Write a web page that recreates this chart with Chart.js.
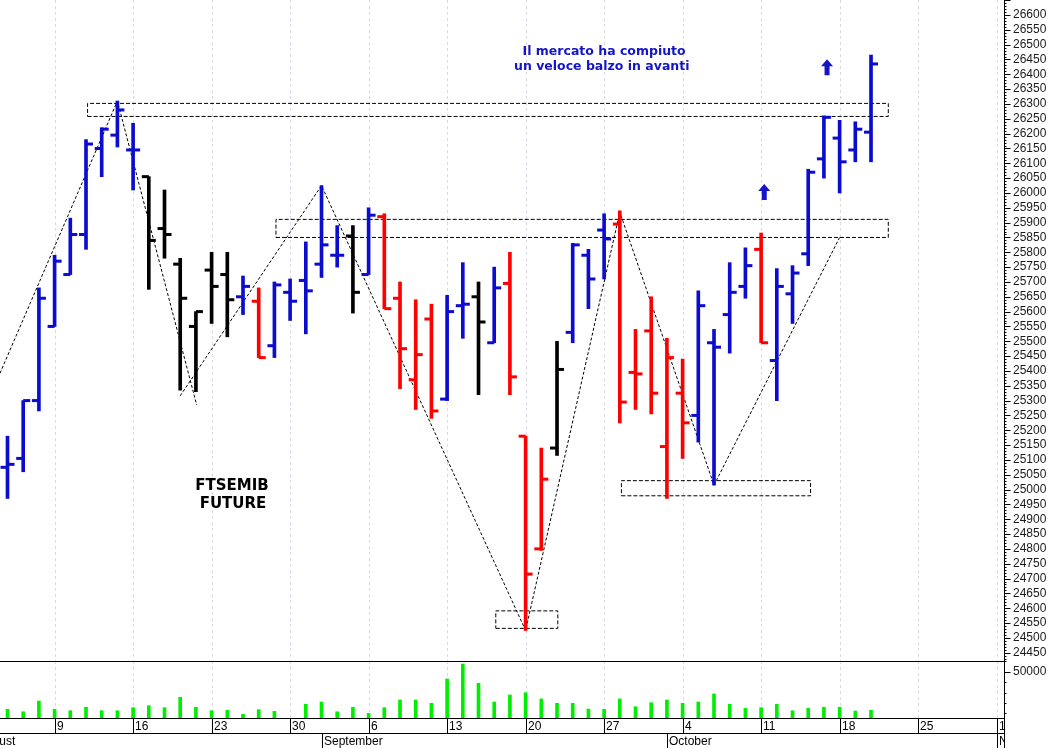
<!DOCTYPE html>
<html>
<head>
<meta charset="utf-8">
<title>FTSEMIB Future</title>
<script src="https://cdn.jsdelivr.net/npm/chart.js@4.4.1/dist/chart.umd.min.js"></script>
<style>
    body { margin: 0; background: #fff; }
    #wrap { position: relative; width: 1052px; height: 748px; overflow: hidden; background: #fff; }
    #chartPrice { position: absolute; left: 0; top: 0; }
    #chartVol { position: absolute; left: 0; top: 661px; }
</style>
</head>
<body>
<div id="wrap">
    <canvas id="chartPrice" width="1052" height="661"></canvas>
    <canvas id="chartVol" width="1052" height="87"></canvas>
</div>
<script>
/* ====================================
   FTSEMIB FUTURE - barre giornaliere
   ==================================== */

// sedute dal 4 agosto (indice 0) al 20 ottobre (indice 55)
const openP = [25075, 25105, 25300, 25550, 25725, 25860, 26150, 26195, 26145, 26055,
               25880, 25760, 25550, 25740, 25725, 25650, 25635, 25485, 25665, 25705,
               25760, 25790, 25855, 25725, 25920, 25645, 25370, 25575, 25305, 25620,
               25650, 25495, 25695, 25180, 24800, 25140, 25530, 25790, 25875, 25895,
               25395, 25535, 25145, 25325, 25250, 25495, 25590, 25685, 25810, 25435,
               25660, 25795, 26115, 26185, 26145, 26205];
const highP = [25180, 25300, 25680, 25790, 25915, 26180, 26220, 26310, 26235, 26055,
               26010, 25780, 25600, 25800, 25800, 25720, 25680, 25700, 25710, 25835,
               26025, 25890, 25890, 25950, 25930, 25700, 25640, 25625, 25655, 25765,
               25700, 25750, 25800, 25180, 25140, 25500, 25830, 25810, 25930, 25940,
               25540, 25650, 25510, 25440, 25670, 25540, 25765, 25815, 25865, 25745,
               25755, 26080, 26260, 26245, 26240, 26465];
const lowP = [24970, 25060, 25265, 25550, 25725, 25810, 26055, 26155, 26010, 25675,
              25780, 25335, 25330, 25560, 25515, 25590, 25445, 25445, 25570, 25525,
              25715, 25750, 25595, 25725, 25610, 25340, 25270, 25240, 25300, 25510,
              25320, 25495, 25320, 24525, 24795, 25115, 25495, 25610, 25710, 25225,
              25270, 25255, 24970, 25105, 25160, 25015, 25460, 25645, 25495, 25300,
              25560, 25755, 26050, 26000, 26105, 26105];
const closeP = [25085, 25300, 25645, 25770, 25860, 26165, 26215, 26280, 26145, 25840,
                25860, 25645, 25600, 25685, 25640, 25685, 25445, 25690, 25635, 25670,
                25825, 25790, 25665, 25925, 25610, 25475, 25455, 25265, 25600, 25625,
                25565, 25680, 25380, 24715, 25035, 25405, 25825, 25710, 25845, 25295,
                25390, 25325, 25445, 25225, 25620, 25480, 25665, 25755, 25495, 25685,
                25730, 26070, 26255, 26105, 26215, 26435];
// U = rialzo, D = ribasso, N = neutro
const trend = ['U','U','U','U','U','U','U','U','U','N','N','N','N','N','N','U','D','U','U','U',
               'U','U','N','U','D','D','D','D','U','U','N','U','D','D','D','N','U','U','U','D',
               'D','D','D','D','U','U','U','U','D','U','U','U','U','U','U','U'];
const volume = [13800, 11500, 21800, 13800, 12500, 15800, 12500, 12500, 15400, 17300,
                15400, 25400, 15800, 12500, 12900, 9000, 13500, 11900, 5000, 18700,
                20900, 11500, 15800, 10000, 15400, 22800, 22800, 19600, 43000, 57400,
                38800, 20900, 27600, 29800, 23800, 19600, 19600, 14100, 13800, 23800,
                16300, 20200, 22800, 19600, 20900, 28600, 18700, 14800, 15400, 18700,
                12500, 14800, 15800, 15800, 12200, 12900];

// lunedì e inizio mese (indice di seduta)
const weekIdx = [-2, 3, 8, 13, 18, 23, 28, 33, 38, 43, 48, 53, 58, 63];
const weekLabels = ['2', '9', '16', '23', '30', '6', '13', '20', '27', '4', '11', '18', '25', '1'];
const monthIdx = [-2, 20, 42, 63];
const monthNames = ['August', 'September', 'October', 'November'];

// zone di supporto / resistenza
const zoneFrom = [5.1, 17.1, 31.1, 39.1];
const zoneTo = [56.1, 56.1, 35.05, 51.15];
const zoneLow = [26258, 25850, 24532, 24979];
const zoneHigh = [26302, 25911, 24591, 25030];

// trendline tratteggiate
const swingAX = [-0.48, 7, 12.05];
const swingAP = [25392, 26310, 25285];
const swingBX = [11.0, 20, 33, 39, 45, 53.0];
const swingBP = [25316, 26025, 24525, 25935, 25015, 25850];

// frecce
const arrowX = [48.2, 52.2];
const arrowP = [26003, 26424];

const volTicks = [50000];

const xMin = -0.478, xMax = 63.47;
const priceMin = 24422, priceMax = 26650.6;
const volMin = 5480, volMax = 60290;

Chart.defaults.font.family = "'Liberation Sans', Arial, sans-serif";
Chart.defaults.font.size = 12;
Chart.defaults.color = '#1a1a1a';

const trendColor = { U: '#0c0cd0', D: '#ff0000', N: '#000000' };
const barColors = trend.map(t => trendColor[t]);
const idx = openP.map((_, i) => i);
const tickOffset = 3.5 / 15.7;

const Draw = {
    mondayGrid(chart) {
        const { ctx, chartArea } = chart;
        const xs = chart.scales.x;
        ctx.save();
        ctx.strokeStyle = '#dadae2';
        ctx.lineWidth = 1;
        ctx.setLineDash([3, 3]);
        weekIdx.forEach(i => {
            const x = Math.round(xs.getPixelForValue(i)) + 0.5;
            if (x < chartArea.left || x > chartArea.right - 2) return;
            ctx.beginPath();
            ctx.moveTo(x, chartArea.top);
            ctx.lineTo(x, chartArea.bottom);
            ctx.stroke();
        });
        ctx.restore();
    },

    axisTicks(chart, scaleId, minor, major) {
        const { ctx, chartArea } = chart;
        const s = chart.scales[scaleId];
        const x = Math.round(chartArea.right) + 0.5;
        ctx.save();
        ctx.strokeStyle = '#000';
        ctx.lineWidth = 1;
        ctx.beginPath();
        ctx.moveTo(x, 0);
        ctx.lineTo(x, chart.height);
        for (let v = Math.ceil(s.min / minor) * minor; v <= s.max; v += minor) {
            const y = Math.round(s.getPixelForValue(v)) + 0.5;
            const len = (Math.round(v) % major === 0) ? 6 : 2;
            ctx.moveTo(x, y);
            ctx.lineTo(x + len, y);
        }
        ctx.stroke();
        ctx.restore();
    },

    upArrow(ctx, x, y) {
        ctx.beginPath();
        ctx.moveTo(x, y - 8);
        ctx.lineTo(x + 6, y - 1);
        ctx.lineTo(x + 2.5, y - 1);
        ctx.lineTo(x + 2.5, y + 8);
        ctx.lineTo(x - 2.5, y + 8);
        ctx.lineTo(x - 2.5, y - 1);
        ctx.lineTo(x - 6, y - 1);
        ctx.closePath();
        ctx.fill();
    },

    notes(chart) {
        const { ctx } = chart;
        const xs = chart.scales.x;
        const ys = chart.scales.y;
        ctx.save();
        ctx.textAlign = 'center';
        ctx.textBaseline = 'middle';
        ctx.fillStyle = '#1414c8';
        ctx.font = "bold 12.5px 'DejaVu Sans', Verdana, sans-serif";
        ctx.fillText('Il mercato ha compiuto', xs.getPixelForValue(38.0), ys.getPixelForValue(26476));
        ctx.fillText('un veloce balzo in avanti', xs.getPixelForValue(37.85), ys.getPixelForValue(26426));
        arrowX.forEach((ax, k) => Draw.upArrow(ctx, xs.getPixelForValue(ax), ys.getPixelForValue(arrowP[k])));
        ctx.fillStyle = '#000';
        ctx.font = "bold 15px 'DejaVu Sans', Verdana, sans-serif";
        ctx.fillText('FTSEMIB', xs.getPixelForValue(14.3), ys.getPixelForValue(25010));
        ctx.fillText('FUTURE', xs.getPixelForValue(14.36), ys.getPixelForValue(24950));
        ctx.restore();
    },

    dateRows(chart) {
        const { ctx, chartArea } = chart;
        const xs = chart.scales.x;
        const right = chartArea.right;
        const row1 = Math.round(chartArea.bottom) + 0.5;
        const row2 = row1 + 15;
        const px = i => Math.round(xs.getPixelForValue(i)) + 0.5;
        ctx.save();
        ctx.beginPath();
        ctx.rect(0, 0, right, chart.height);
        ctx.clip();
        ctx.strokeStyle = '#000';
        ctx.lineWidth = 1;
        ctx.beginPath();
        [0.5, row1, row2].forEach(y => {
            ctx.moveTo(0, y);
            ctx.lineTo(right, y);
        });
        weekIdx.forEach(i => {
            ctx.moveTo(px(i), row1);
            ctx.lineTo(px(i), row2);
        });
        monthIdx.forEach(i => {
            ctx.moveTo(px(i), row2);
            ctx.lineTo(px(i), chart.height);
        });
        ctx.stroke();
        ctx.fillStyle = '#000';
        ctx.font = "12px 'Liberation Sans', Arial, sans-serif";
        ctx.textAlign = 'left';
        ctx.textBaseline = 'middle';
        weekIdx.forEach((i, k) => ctx.fillText(weekLabels[k], px(i) + 1.5, row1 + 8.5));
        monthIdx.forEach((i, k) => ctx.fillText(monthNames[k], px(i) + 1.5, row2 + 8.5));
        ctx.restore();
    }
};

const pricePlugin = {
    id: 'pricePlugin',
    beforeDatasetsDraw: chart => Draw.mondayGrid(chart),
    afterDatasetsDraw: chart => Draw.notes(chart),
    afterDraw: chart => Draw.axisTicks(chart, 'y', 10, 50)
};

const volPlugin = {
    id: 'volPlugin',
    beforeDatasetsDraw: chart => Draw.mondayGrid(chart),
    afterDraw: chart => {
        Draw.dateRows(chart);
        Draw.axisTicks(chart, 'y', 10000, 50000);
    }
};

const dotted = (xsArr, psArr) => ({
    type: 'line',
    data: xsArr.map((x, k) => ({ x: x, y: psArr[k] })),
    borderColor: '#000',
    borderWidth: 1,
    borderDash: [3, 2],
    pointRadius: 0,
    fill: false,
    order: 3
});

const zoneSets = zoneFrom.map((x0, k) => ({
    type: 'line',
    data: [
        { x: x0, y: zoneLow[k] }, { x: zoneTo[k], y: zoneLow[k] },
        { x: zoneTo[k], y: zoneHigh[k] }, { x: x0, y: zoneHigh[k] },
        { x: x0, y: zoneLow[k] }
    ],
    borderColor: '#000',
    borderWidth: 1,
    borderDash: [4, 2],
    pointRadius: 0,
    fill: false,
    order: 3
}));

const tickSet = (offset, values) => ({
    type: 'line',
    data: idx.map(i => ({ x: i + offset, y: values[i] })),
    showLine: false,
    pointStyle: 'line',
    pointRadius: 3.5,
    pointBorderWidth: 3,
    pointBorderColor: barColors,
    pointBackgroundColor: barColors,
    order: 0
});

const xScale = {
    type: 'linear',
    min: xMin,
    max: xMax,
    offset: false,
    display: false,
    grid: { offset: false }
};

new Chart(document.getElementById('chartPrice'), {
    type: 'bar',
    data: {
        datasets: [
            {
                type: 'bar',
                data: idx.map(i => ({ x: i, y: [lowP[i], highP[i]] })),
                backgroundColor: barColors,
                borderWidth: 0,
                barThickness: 3,
                order: 1
            },
            tickSet(-tickOffset, openP),
            tickSet(tickOffset, closeP),
            dotted(swingAX, swingAP),
            dotted(swingBX, swingBP),
            ...zoneSets
        ]
    },
    options: {
        responsive: false,
        animation: false,
        events: [],
        layout: { padding: 0, autoPadding: false },
        plugins: {
            legend: { display: false },
            tooltip: { enabled: false }
        },
        scales: {
            x: xScale,
            y: {
                type: 'linear',
                position: 'right',
                min: priceMin,
                max: priceMax,
                afterFit: s => { s.width = 48; s.paddingTop = 0; s.paddingBottom = 0; },
                afterBuildTicks: s => { s.ticks = s.ticks.filter(t => t.value <= 26600); },
                grid: { display: false, drawTicks: false },
                border: { display: false },
                ticks: {
                    stepSize: 50,
                    autoSkip: false,
                    includeBounds: false,
                    padding: 9,
                    callback: v => String(v)
                }
            }
        }
    },
    plugins: [pricePlugin]
});

new Chart(document.getElementById('chartVol'), {
    type: 'bar',
    data: {
        datasets: [{
            data: idx.map(i => ({ x: i, y: volume[i] })),
            backgroundColor: '#00ee00',
            borderWidth: 0,
            barThickness: 3
        }]
    },
    options: {
        responsive: false,
        animation: false,
        events: [],
        layout: { padding: { top: 0, left: 0, right: 0, bottom: 30 }, autoPadding: false },
        plugins: {
            legend: { display: false },
            tooltip: { enabled: false }
        },
        scales: {
            x: xScale,
            y: {
                type: 'linear',
                position: 'right',
                min: volMin,
                max: volMax,
                afterFit: s => { s.width = 48; s.paddingTop = 0; s.paddingBottom = 0; },
                afterBuildTicks: s => { s.ticks = volTicks.map(v => ({ value: v })); },
                grid: { display: false, drawTicks: false },
                border: { display: false },
                ticks: {
                    autoSkip: false,
                    padding: 9,
                    callback: v => String(v)
                }
            }
        }
    },
    plugins: [volPlugin]
});
</script>
</body>
</html>
